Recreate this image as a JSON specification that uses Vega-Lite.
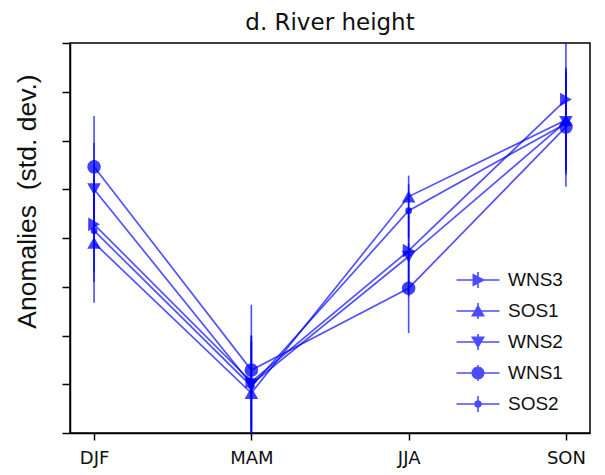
{
  "$schema": "https://vega.github.io/schema/vega-lite/v6.json",
  "width": 520,
  "height": 390,
  "autosize": "none",
  "padding": {"left": 70, "top": 43, "right": 15, "bottom": 42},
  "background": "white",
  "title": {"text": "d. River height", "font": "DejaVu Sans", "fontSize": 23, "fontWeight": "normal", "color": "#111", "offset": 7, "anchor": "middle"},
  "config": {
    "view": {"stroke": "black", "strokeWidth": 1.5},
    "axis": {"grid": false, "domainColor": "black", "domainWidth": 1.5, "tickColor": "black", "tickWidth": 1.5}
  },
  "data": {"values": [
    {"season": "DJF", "i": 0, "series": "WNS3", "value": 4.28, "lo": 3.3, "hi": 5.3},
    {"season": "DJF", "i": 0, "series": "SOS1", "value": 3.9, "lo": 2.67, "hi": 5.1},
    {"season": "DJF", "i": 0, "series": "WNS2", "value": 5.0, "lo": 4.05, "hi": 5.95},
    {"season": "DJF", "i": 0, "series": "WNS1", "value": 5.46, "lo": 4.42, "hi": 6.5},
    {"season": "DJF", "i": 0, "series": "SOS2", "value": 4.15, "lo": 3.1, "hi": 5.2},
    {"season": "MAM", "i": 1, "series": "WNS3", "value": 1.05, "lo": 0.1, "hi": 2.0},
    {"season": "MAM", "i": 1, "series": "SOS1", "value": 0.82, "lo": -0.2, "hi": 1.85},
    {"season": "MAM", "i": 1, "series": "WNS2", "value": 1.0, "lo": 0.0, "hi": 2.0},
    {"season": "MAM", "i": 1, "series": "WNS1", "value": 1.29, "lo": -0.05, "hi": 2.63},
    {"season": "MAM", "i": 1, "series": "SOS2", "value": 0.96, "lo": 0.0, "hi": 1.9},
    {"season": "JJA", "i": 2, "series": "WNS3", "value": 3.74, "lo": 2.9, "hi": 4.6},
    {"season": "JJA", "i": 2, "series": "SOS1", "value": 4.85, "lo": 4.4, "hi": 5.28},
    {"season": "JJA", "i": 2, "series": "WNS2", "value": 3.62, "lo": 2.8, "hi": 4.45},
    {"season": "JJA", "i": 2, "series": "WNS1", "value": 2.97, "lo": 2.05, "hi": 3.89},
    {"season": "JJA", "i": 2, "series": "SOS2", "value": 4.56, "lo": 4.0, "hi": 5.1},
    {"season": "SON", "i": 3, "series": "WNS3", "value": 6.84, "lo": 5.6, "hi": 8.2},
    {"season": "SON", "i": 3, "series": "SOS1", "value": 6.42, "lo": 5.4, "hi": 7.45},
    {"season": "SON", "i": 3, "series": "WNS2", "value": 6.38, "lo": 5.35, "hi": 7.4},
    {"season": "SON", "i": 3, "series": "WNS1", "value": 6.28, "lo": 5.05, "hi": 7.5},
    {"season": "SON", "i": 3, "series": "SOS2", "value": 6.35, "lo": 5.3, "hi": 7.4}
  ]},
  "encoding": {
    "x": {"field": "season", "type": "nominal", "sort": ["DJF", "MAM", "JJA", "SON"],
      "scale": {"type": "point", "padding": 0.153},
      "axis": {"title": null, "labelAngle": 0, "labelFont": "DejaVu Sans", "labelFontSize": 18, "labelColor": "#111", "tickSize": 7, "labelPadding": 9}}
  },
  "layer": [
    {
      "mark": {"type": "line", "color": "#0000ff", "opacity": 0.68, "strokeWidth": 1.7},
      "encoding": {
        "y": {"field": "value", "type": "quantitative", "scale": {"domain": [0, 8], "nice": false, "zero": false},
          "axis": {"title": "Anomalies\u00a0 (std. dev.)", "titleFont": "Liberation Sans", "titleFontSize": 26.5, "titleFontWeight": "normal", "titleColor": "#111", "titlePadding": 20, "titleY": 158, "titleAlign": "center", "labels": false, "values": [0, 1, 2, 3, 4, 5, 6, 7, 8], "tickSize": 8}},
        "detail": {"field": "series"},
        "order": {"field": "i", "type": "quantitative"}
      }
    },
    {
      "mark": {"type": "rule", "color": "#0000ff", "opacity": 0.7, "strokeWidth": 1.6, "clip": true},
      "encoding": {
        "y": {"field": "lo", "type": "quantitative"},
        "y2": {"field": "hi"}
      }
    },
    {
      "transform": [{"filter": "datum.series != 'SOS2'"}],
      "mark": {"type": "point", "filled": true, "color": "#0000ff", "opacity": 0.75, "size": 185},
      "encoding": {
        "y": {"field": "value", "type": "quantitative"},
        "shape": {"field": "series", "type": "nominal",
          "scale": {"domain": ["WNS3", "SOS1", "WNS2", "WNS1"], "range": ["triangle-right", "triangle-up", "triangle-down", "circle"]},
          "legend": null}
      }
    },
    {
      "transform": [{"filter": "datum.series == 'SOS2'"}],
      "mark": {"type": "point", "filled": true, "shape": "circle", "color": "#0000ff", "opacity": 0.8, "size": 45},
      "encoding": {
        "y": {"field": "value", "type": "quantitative"}
      }
    },
    {
      "mark": {"type": "point", "filled": true, "color": "#0000ff", "opacity": 0},
      "encoding": {
        "y": {"field": "value", "type": "quantitative"},
        "shape": {"field": "series", "type": "nominal",
          "scale": {"domain": ["WNS3", "SOS1", "WNS2", "WNS1", "SOS2"],
            "range": [
              "M-2.15,-0.08L2.15,-0.08L2.15,0.08L-2.15,0.08ZM-0.08,-0.8L0.08,-0.8L0.08,0.8L-0.08,0.8ZM-0.55,-0.65L0.75,0L-0.55,0.65Z",
              "M-2.15,-0.08L2.15,-0.08L2.15,0.08L-2.15,0.08ZM-0.08,-0.8L0.08,-0.8L0.08,0.8L-0.08,0.8ZM0,-0.65L0.7,0.55L-0.7,0.55Z",
              "M-2.15,-0.08L2.15,-0.08L2.15,0.08L-2.15,0.08ZM-0.08,-0.8L0.08,-0.8L0.08,0.8L-0.08,0.8ZM-0.7,-0.55L0.7,-0.55L0,0.65Z",
              "M-2.15,-0.08L2.15,-0.08L2.15,0.08L-2.15,0.08ZM-0.08,-0.8L0.08,-0.8L0.08,0.8L-0.08,0.8ZM-0.65,0A0.65,0.65,0,1,1,0.65,0A0.65,0.65,0,1,1,-0.65,0Z",
              "M-2.15,-0.08L2.15,-0.08L2.15,0.08L-2.15,0.08ZM-0.08,-0.8L0.08,-0.8L0.08,0.8L-0.08,0.8ZM-0.38,0A0.38,0.38,0,1,1,0.38,0A0.38,0.38,0,1,1,-0.38,0Z"
            ]},
          "legend": {"title": null, "orient": "none", "legendX": 398, "legendY": 227, "padding": 0,
            "symbolSize": 400, "symbolStrokeWidth": 0, "symbolFillColor": "#0000ff", "symbolStrokeColor": "#0000ff", "symbolOpacity": 0.7,
            "labelFont": "Liberation Sans", "labelFontSize": 19, "labelColor": "#111", "labelOffset": 20, "rowPadding": 11}}
      }
    }
  ],
  "resolve": {"scale": {"shape": "independent"}, "legend": {"shape": "independent"}}
}
